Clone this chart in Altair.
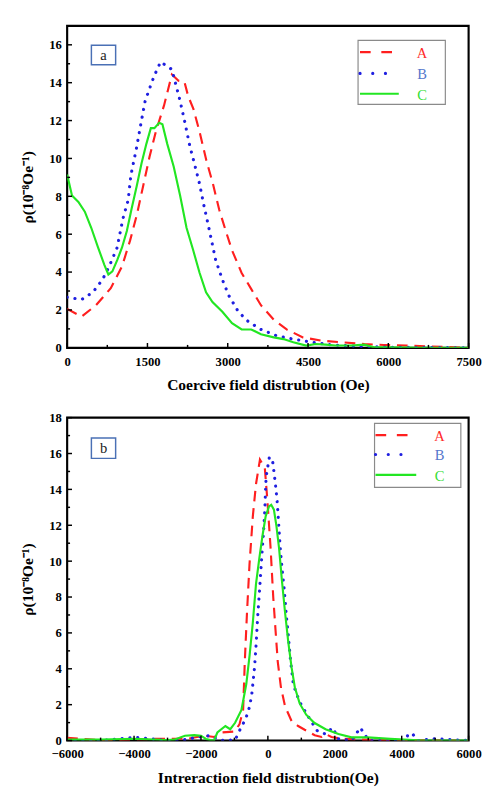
import altair as alt
import pandas as pd

# ---------------- data: panel (a) coercive field distribution ----------------
a_x = [0, 270, 540, 815, 1025, 1175, 1300, 1420, 1540, 1660, 1810, 1957, 2080, 2190, 2260,
       2360, 2470, 2600, 2720, 2840, 2960, 3080, 3260, 3440, 3620, 3860, 4100, 4405, 4770,
       5130, 5550, 5915, 6335, 6760, 7120, 7500]
a_v = [2.05, 1.65, 2.25, 3.15, 4.3, 5.66, 7.0, 8.55, 10.1, 11.45, 12.8, 14.43, 14.1, 14.05, 13.3,
       12.6, 11.45, 9.9, 8.7, 7.3, 6.2, 5.15, 3.95, 3.1, 2.25, 1.48, 0.97, 0.55, 0.37,
       0.29, 0.2, 0.15, 0.12, 0.07, 0.04, 0.0]

b_x = [0, 270, 480, 660, 785, 935, 1040, 1140, 1190, 1292, 1382, 1455, 1540, 1625, 1745,
       1870, 1957, 2107, 2200, 2288, 2380, 2470, 2560, 2650, 2775, 2900, 3020, 3200, 3380,
       3620, 3920, 4225, 4585, 4950, 5430, 6035, 7500]
b_v = [2.67, 2.55, 2.93, 3.6, 4.3, 5.3, 6.8, 7.8, 9.1, 10.5, 11.9, 13.0, 13.7, 14.35, 15.1,
       14.86, 14.7, 13.07, 11.9, 10.7, 9.7, 8.7, 7.45, 6.3, 4.63, 3.6, 2.76, 1.9, 1.4,
       0.97, 0.63, 0.46, 0.29, 0.15, 0.08, 0.03, 0.0]

c_x = [0, 90, 210, 330, 450, 575, 695, 770, 845, 935, 1025, 1115, 1205, 1300, 1390, 1480,
       1563, 1630, 1720, 1780, 1870, 1990, 2110, 2230, 2355, 2475, 2595, 2715, 2900, 3080,
       3260, 3440, 3620, 3860, 4040, 4225, 4465, 4645, 4830, 5010, 5310, 5550, 5730, 6035,
       6640, 7500]
c_v = [9.15, 8.04, 7.7, 7.19, 6.34, 5.32, 4.38, 3.87, 4.04, 4.63, 5.3, 6.17, 7.36, 8.55, 9.75, 10.77,
       11.6, 11.6, 11.88, 11.8, 10.77, 9.58, 8.04, 6.34, 5.15, 3.95, 2.93, 2.42, 1.9, 1.3,
       0.97, 0.97, 0.72, 0.55, 0.46, 0.29, 0.12, 0.2, 0.17, 0.12, 0.12, 0.17, 0.03, 0.03,
       0.0, 0.0]

# ---------------- data: panel (b) interaction field distribution ----------------
ab_x = [-6000, -5000, -4000, -3300, -2400, -1900, -1600, -1370, -1000, -850, -740, -690, -625,
        -550, -450, -355, -237, -92, -15, 82, 160, 227, 295, 390, 515, 710, 905, 1100, 1400,
        1600, 1725, 1900, 2200, 2800, 3500, 4500, 6000]
ab_v = [0.15, 0.02, 0.05, 0.1, 0.1, 0.27, 0.2, 0.45, 0.5, 0.9, 1.7, 4.4, 7.1,
        9.8, 12.5, 14.3, 15.66, 15.2, 13.4, 10.7, 8.0, 6.2, 4.4, 2.97, 1.9, 1.08, 0.81, 0.6, 0.3,
        0.2, 0.36, 0.2, 0.1, 0.05, 0.03, 0.02, 0.0]

bb_x = [-6000, -5000, -3975, -3000, -2475, -2090, -1750, -1410, -1170, -980, -785, -670, -545,
        -480, -400, -350, -305, -255, -210, -180, -130, -90, -65, -35, 40, 130, 180, 225, 275,
        320, 370, 430, 490, 545, 610, 680, 760, 855, 1000, 1145, 1290, 1480, 1725, 1935, 2110,
        2500, 2765, 2880, 3025, 4140, 4185, 4330, 4475, 5000, 6000]
bb_v = [0.0, 0.0, 0.18, 0.0, 0.05, 0.2, 0.27, 0.0, 0.03, 0.03, 0.8, 1.17, 1.9,
        2.6, 4.05, 5.4, 6.9, 8.2, 9.45, 10.35, 11.6, 12.9, 14.3, 14.9, 15.75, 15.75, 15.0, 14.3, 13.4,
        12.15, 10.7, 9.45, 8.4, 7.1, 5.85, 4.4, 3.15, 2.6, 1.98, 1.53, 1.08, 0.54, 0.36, 0.72, 0.1,
        0.0, 0.72, 0.36, 0.0, 0.0, 0.36, 0.36, 0.0, 0.1, 0.0]

cb_x = [-6000, -5000, -4000, -3000, -2800, -2480, -2200, -2000, -1850, -1650, -1610, -1510,
        -1270, -1125, -980, -790, -645, -545, -450, -355, -255, -160, -65, 35, 100, 180, 255,
        335, 420, 515, 610, 710, 805, 950, 1145, 1385, 1725, 2110, 2500, 2980, 3660, 4625, 6000]
cb_v = [0.05, 0.05, 0.1, 0.03, 0.05, 0.27, 0.3, 0.27, 0.09, 0.0, 0.0, 0.45,
        0.81, 0.63, 0.99, 1.71, 3.15, 4.77, 6.57, 8.73, 10.17, 11.43, 12.51, 13.05, 13.14, 12.87, 11.97,
        10.71, 8.91, 7.11, 5.49, 4.05, 2.97, 2.07, 1.44, 0.99, 0.63, 0.36, 0.18, 0.18, 0.09, 0.0, 0.0]

series_names = ["A", "B", "C"]
line_colors = ["#ff1f1f", "#1f1fe0", "#22e622"]
label_colors = ["#ff2a2a", "#5577cc", "#33dd33"]

top_x_major = [0, 1500, 3000, 4500, 6000, 7500]
top_x_minor = [750, 2250, 3750, 5250, 6750]
top_y_major = [0, 2, 4, 6, 8, 10, 12, 14, 16]
top_y_minor = [1, 3, 5, 7, 9, 11, 13, 15]
bot_x_major = [-6000, -4000, -2000, 0, 2000, 4000, 6000]
bot_x_minor = [-5000, -3000, -1000, 1000, 3000, 5000]
bot_y_major = [0, 2, 4, 6, 8, 10, 12, 14, 16, 18]
bot_y_minor = [1, 3, 5, 7, 9, 11, 13, 15, 17]

W = 414
FONT = "Liberation Serif"
YTITLE = "ρ(10⁻⁸Oe⁻¹)"


def panel(xs, vs, xdom, ydom, xmaj, xmin, ymaj, ymin, xtitle, H, letter, leg, lab):
    def X(field="x"):
        return alt.X(f"{field}:Q", scale=alt.Scale(domain=xdom, nice=False, zero=False),
                     axis=alt.Axis(values=xmaj, title=xtitle, grid=False, ticks=False, domain=False,
                                   labelFlush=False, labelPadding=8, titlePadding=9,
                                   format="d"))

    def Y(field="v"):
        return alt.Y(f"{field}:Q", scale=alt.Scale(domain=ydom, nice=False),
                     axis=alt.Axis(values=ymaj, title=YTITLE, grid=False, ticks=False, domain=False,
                                   labelFlush=False, labelPadding=6, titlePadding=14))

    layers = []
    dashes = [[11, 7], [0.1, 8], None]
    widths = [2.2, 3.2, 2.2]
    for i, name in enumerate(series_names):
        df = pd.DataFrame({"x": xs[i], "v": vs[i]})
        kw = dict(color=line_colors[i], strokeWidth=widths[i], clip=True)
        if dashes[i] is not None:
            kw["strokeDash"] = dashes[i]
        if i == 1:
            kw["strokeCap"] = "round"
        layers.append(alt.Chart(df).mark_line(**kw).encode(x=X(), y=Y()))

    # inward ticks
    for vals, ln in ((xmaj, 5), (xmin, 3)):
        layers.append(alt.Chart(pd.DataFrame({"x": vals})).mark_rule(color="black", strokeWidth=1.5)
                      .encode(x=X(), y=alt.value(H), y2=alt.value(H - ln)))
    for vals, ln in ((ymaj, 5), (ymin, 3)):
        layers.append(alt.Chart(pd.DataFrame({"v": vals})).mark_rule(color="black", strokeWidth=1.5)
                      .encode(y=Y(), x=alt.value(0), x2=alt.value(ln)))

    # legend box
    bx0, bx1, by0, by1, lx0, lx1, tx, rows = leg
    layers.append(alt.Chart(pd.DataFrame({"k": [0]})).mark_rect(fill="white", stroke="#8a8a8a", strokeWidth=1.2)
                  .encode(x=alt.value(bx0), x2=alt.value(bx1), y=alt.value(by0), y2=alt.value(by1)))
    for i, name in enumerate(series_names):
        kw = dict(color=line_colors[i], strokeWidth=widths[i])
        if dashes[i] is not None:
            kw["strokeDash"] = [11, 11] if i == 0 else [0.1, 13]
        if i == 1:
            kw["strokeCap"] = "round"
        layers.append(alt.Chart(pd.DataFrame({"k": [0]})).mark_rule(**kw)
                      .encode(x=alt.value(lx0), x2=alt.value(lx1 if i != 1 else lx1 - 6), y=alt.value(rows[i])))
        layers.append(alt.Chart(pd.DataFrame({"k": [0]})).mark_text(text=name, font=FONT, fontSize=15,
                                                                     color=label_colors[i], align="center",
                                                                     baseline="middle")
                      .encode(x=alt.value(tx), y=alt.value(rows[i] + 1)))

    # panel letter
    px0, px1, py0, py1 = lab
    layers.append(alt.Chart(pd.DataFrame({"k": [0]})).mark_rect(fill="white", stroke="#4a70b5", strokeWidth=1.5)
                  .encode(x=alt.value(px0), x2=alt.value(px1), y=alt.value(py0), y2=alt.value(py1)))
    layers.append(alt.Chart(pd.DataFrame({"k": [0]})).mark_text(text=letter, font=FONT, fontSize=15,
                                                                 color="#222222", align="center",
                                                                 baseline="middle")
                  .encode(x=alt.value((px0 + px1) / 2), y=alt.value((py0 + py1) / 2)))

    return alt.layer(*layers).properties(width=W, height=H)


top = panel([a_x, b_x, c_x], [a_v, b_v, c_v], [0, 7500], [0, 17],
            top_x_major, top_x_minor, top_y_major, top_y_minor,
            "Coercive field distrubtion (Oe)", 332, "a",
            (300, 390, 15, 81, 302, 342, 366, [27, 49, 70]),
            (25, 50, 20, 40))

bottom = panel([ab_x, bb_x, cb_x], [ab_v, bb_v, cb_v], [-6000, 6000], [0, 18],
               bot_x_major, bot_x_minor, bot_y_major, bot_y_minor,
               "Intreraction field distrubtion(Oe)", 333, "b",
               (317, 406, 6, 72, 318, 360, 384, [18, 38, 59]),
               (25, 50, 21, 42))

chart = alt.vconcat(top, bottom, spacing=16).properties(
    padding={"left": 10, "top": 4, "right": 5, "bottom": 5}
).configure_view(stroke="black", strokeWidth=2.2).configure_axis(
    labelFont=FONT, labelFontSize=13, labelFontWeight="bold", labelColor="black",
    titleFont=FONT, titleFontSize=16, titleFontWeight="bold", titleColor="black"
).configure_axisX(titleFontSize=16)

chart.save("out.html", embed_options={"renderer": "svg", "actions": False})
